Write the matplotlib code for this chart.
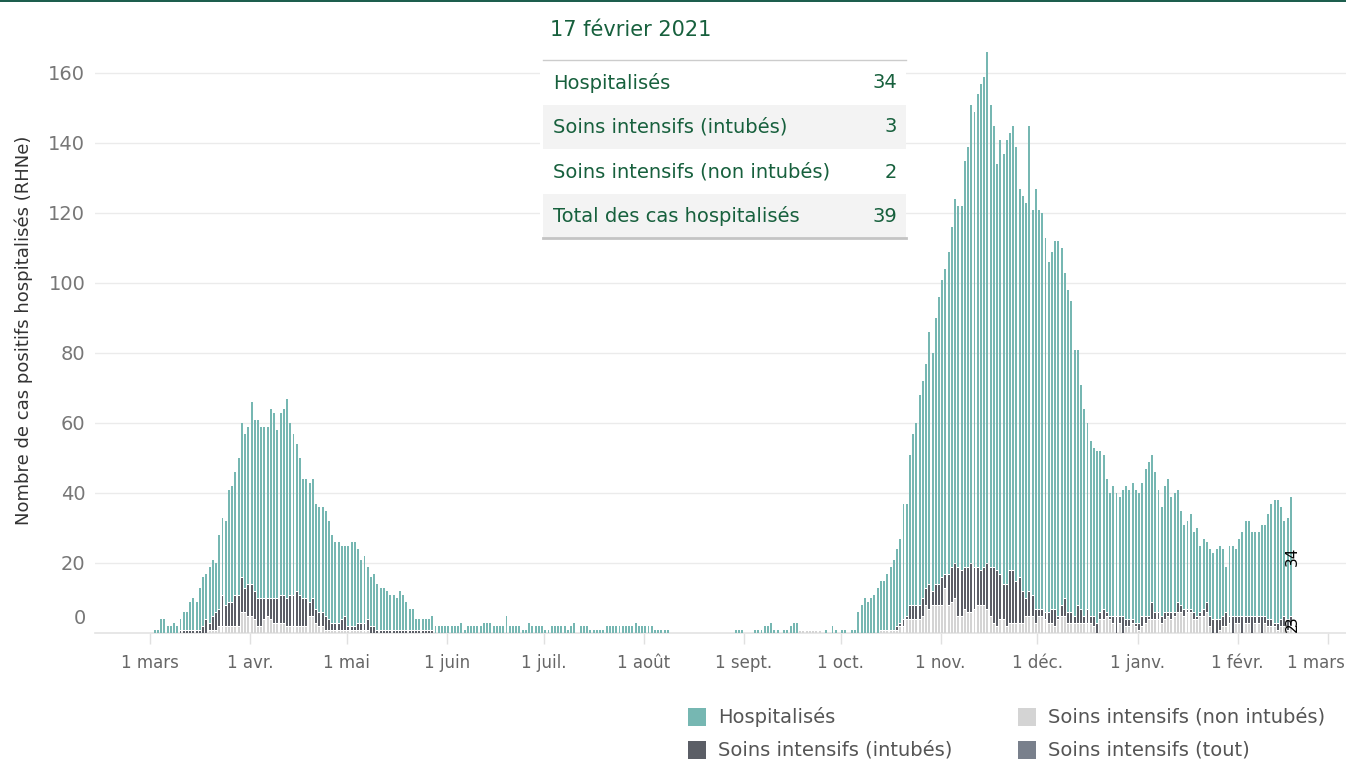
import numpy as np
import pandas as pd
import matplotlib
matplotlib.use("Agg")
import matplotlib.pyplot as plt
import matplotlib.transforms as mtransforms
from matplotlib.patches import Rectangle
from matplotlib.lines import Line2D

plt.rcParams['font.family'] = ['DejaVu Sans']

# daily values, 1 March 2020 -> 17 February 2021, one list per month
tot_mar = [0, 1, 1, 4, 4, 2, 2, 3, 2, 4, 6, 6, 9, 10, 9, 13, 16, 17, 19, 21, 20, 28, 33, 32, 41, 42, 46, 50, 60, 57, 59]
tot_avr = [66, 61, 61, 59, 59, 59, 64, 63, 58, 63, 64, 67, 60, 57, 54, 50, 44, 44, 43, 44, 37, 36, 36, 35, 32, 28, 26, 26, 25, 25]
tot_mai = [25, 26, 26, 24, 21, 22, 19, 16, 17, 14, 13, 13, 12, 11, 11, 10, 12, 11, 9, 7, 7, 4, 4, 4, 4, 4, 5, 2, 2, 2, 2]
tot_juin = [2, 2, 2, 2, 3, 1, 2, 2, 2, 2, 2, 3, 3, 3, 2, 2, 2, 2, 5, 2, 2, 2, 2, 1, 1, 3, 2, 2, 2, 2]
tot_juil = [1, 1, 2, 2, 2, 2, 2, 1, 2, 3, 0, 2, 2, 2, 1, 1, 1, 1, 1, 2, 2, 2, 2, 2, 2, 2, 2, 2, 3, 2, 2]
tot_aout = [2, 2, 2, 1, 1, 1, 1, 1, 0, 0, 0, 0, 0, 0, 0, 0, 0, 0, 0, 0, 0, 0, 0, 0, 0, 0, 0, 0, 1, 1, 1]
tot_sept = [0, 0, 0, 1, 1, 1, 2, 2, 3, 1, 1, 0, 1, 1, 2, 3, 3, 1, 1, 1, 1, 1, 1, 1, 0, 1, 0, 2, 1, 0]
tot_oct = [1, 1, 0, 1, 1, 6, 8, 10, 9, 10, 11, 13, 15, 15, 17, 19, 21, 24, 27, 37, 37, 51, 57, 60, 68, 72, 77, 86, 80, 90, 96]
tot_nov = [101, 104, 109, 116, 124, 122, 122, 135, 139, 151, 149, 154, 157, 159, 166, 151, 145, 134, 141, 137,
           141, 143, 145, 139, 127, 125, 123, 145, 121, 127]
tot_dec = [121, 120, 113, 106, 109, 112, 112, 110, 103, 98, 95, 81, 81, 71, 64, 60, 55, 53, 52, 52, 51, 44, 40, 42,
           40, 39, 41, 42, 41, 43, 41]
tot_jan = [40, 43, 47, 49, 51, 46, 41, 36, 42, 44, 39, 40, 41, 35, 31, 32, 34, 29, 30, 25, 27, 26, 24, 23, 24, 25,
           24, 19, 25, 25, 24]
tot_feb = [27, 29, 32, 32, 29, 29, 29, 31, 31, 34, 37, 38, 38, 36, 32, 33, 39]

int_mar = [0, 0, 0, 0, 0, 0, 0, 0, 0, 1, 1, 1, 1, 1, 1, 1, 2, 4, 2, 4, 5, 5, 9, 6, 7, 7, 9, 9, 10, 7, 9]
int_avr = [9, 8, 8, 8, 6, 5, 6, 7, 7, 8, 8, 8, 9, 9, 10, 9, 8, 8, 4, 5, 4, 4, 4, 4, 3, 2, 2, 2, 3, 4]
int_mai = [1, 1, 1, 2, 2, 2, 3, 2, 2, 1, 1, 1, 1, 1, 1, 1, 1, 1, 1, 1, 1, 1, 1, 1, 1, 1, 1, 0, 0, 0, 0]
int_juin = [0] * 30
int_juil = [0] * 31
int_aout = [0] * 31
int_sept = [0] * 30
int_oct = [0] * 17 + [1, 1, 2, 1, 4, 4, 4, 4, 5, 5, 7, 4, 6, 6]
int_nov = [8, 4, 9, 10, 10, 14, 13, 12, 13, 14, 12, 11, 10, 11, 13, 14, 16, 16, 13, 10, 12, 15, 15, 12, 13, 9, 5, 7, 6, 4]
int_dec = [2, 2, 2, 3, 4, 5, 1, 3, 5, 3, 3, 2, 5, 4, 2, 4, 2, 3, 3, 2, 3, 1, 1, 2, 5, 2, 5, 2, 2, 1, 1]
int_jan = [2, 3, 2, 1, 5, 2, 2, 2, 2, 1, 2, 1, 3, 2, 2, 1, 1, 2, 1, 1, 2, 3, 3, 4, 4, 3, 3, 4, 2, 5, 2]
int_feb = [2, 5, 2, 2, 5, 2, 2, 5, 2, 2, 2, 1, 2, 2, 3, 3, 3]

non_mar = [0] * 18 + [1, 1, 1, 2, 2, 2, 2, 2, 2, 2, 6, 6, 5]
non_avr = [5, 4, 2, 2, 4, 5, 4, 3, 3, 3, 3, 2, 2, 2, 2, 2, 2, 2, 5, 5, 3, 2, 2, 1, 1, 1, 1, 1, 1, 1]
non_mai = [1, 1, 1, 1, 1, 1, 1] + [0] * 24
non_juin = [0] * 30
non_juil = [0] * 31
non_aout = [0] * 31
non_sept = [0] * 17 + [1, 1, 1, 1, 1, 1, 1] + [0] * 6
non_oct = [0] * 12 + [1, 1, 1, 1, 1, 1, 2, 2, 4, 4, 4, 4, 4, 5, 8, 7, 8, 8, 8]
non_nov = [8, 13, 8, 9, 10, 5, 5, 7, 6, 6, 7, 8, 8, 8, 7, 5, 3, 2, 4, 4, 2, 3, 3, 3, 3, 3, 5, 5, 5, 3]
non_dec = [5, 5, 4, 3, 3, 2, 4, 5, 5, 3, 3, 3, 3, 3, 3, 3, 3, 2, 0, 4, 4, 5, 4, 3, 0, 3, 0, 2, 2, 3, 2]
non_jan = [1, 2, 3, 4, 4, 4, 4, 3, 4, 5, 4, 5, 6, 6, 5, 6, 6, 4, 4, 5, 5, 6, 2, 0, 0, 1, 2, 2, 3, 0, 3]
non_feb = [3, 0, 3, 3, 0, 3, 3, 0, 3, 2, 2, 2, 1, 2, 2, 1, 2]

month_labels = ['1 mars', '1 avr.', '1 mai', '1 juin', '1 juil.', '1 août', '1 sept.',
                '1 oct.', '1 nov.', '1 déc.', '1 janv.', '1 févr.', '1 mars']
legend_items = ['Hospitalisés', 'Soins intensifs (intubés)',
                'Soins intensifs (non intubés)', 'Soins intensifs (tout)']

TEAL = '#76b7b2'
DARK = '#5b5e66'
LIGHT = '#d4d4d4'
SLATE = '#79808c'
GREEN = '#17603d'

total = np.array(tot_mar + tot_avr + tot_mai + tot_juin + tot_juil + tot_aout + tot_sept
                 + tot_oct + tot_nov + tot_dec + tot_jan + tot_feb)
intub = np.array(int_mar + int_avr + int_mai + int_juin + int_juil + int_aout + int_sept
                 + int_oct + int_nov + int_dec + int_jan + int_feb)
nonint = np.array(non_mar + non_avr + non_mai + non_juin + non_juil + non_aout + non_sept
                  + non_oct + non_nov + non_dec + non_jan + non_feb)
icu = intub + nonint
hosp = total - icu
x = np.arange(len(total)) + 0.5

W, H = 1346, 762


def fx(px):
    return px / W


def fy(py):
    return 1 - py / H


fig = plt.figure(figsize=(W / 100, H / 100), dpi=100)
ax = fig.add_axes([fx(95), fy(633), fx(W - 95), 623 / H])

# stacked bars, small white gap between segments like the original
bw = 0.6
gap = 0.3
ax.bar(x, np.where(nonint > 0, nonint - gap, 0), width=bw, color=LIGHT, linewidth=0, zorder=2)
ax.bar(x, np.where(intub > 0, intub - gap, 0), bottom=nonint, width=bw, color=DARK,
       linewidth=0, zorder=2)
ax.bar(x, hosp, bottom=icu, width=bw, color=TEAL, linewidth=0, zorder=2)

ax.set_xlim(-17, 370.6)
ax.set_ylim(0, 178)

months = pd.date_range('2020-03-01', '2021-03-01', freq='MS')
ax.set_xticks((months - months[0]).days)
ax.set_xticklabels(month_labels)
ax.set_yticks(np.arange(20, 161, 20))
ax.yaxis.grid(True, color='#ebebeb', linewidth=1)
ax.set_axisbelow(True)
for s in ax.spines.values():
    s.set_visible(False)
ax.axhline(0, color='#e3e3e3', linewidth=1.2, clip_on=False, zorder=1)
ax.tick_params(axis='y', length=0, labelsize=14, labelcolor='#777777', pad=7)
ax.tick_params(axis='x', length=8, width=1, color='#e0e0e0', labelsize=12,
               labelcolor='#666666', pad=7)
# last month label is pulled inside the figure
lastlab = ax.get_xticklabels()[-1]
lastlab.set_transform(lastlab.get_transform() + mtransforms.ScaledTranslation(-12 / 100, 0, fig.dpi_scale_trans))

fig.text(fx(86), fy(619), '0', ha='right', va='center', fontsize=14, color='#777777')

fig.text(fx(24), fy(330), 'Nombre de cas positifs hospitalisés (RHNe)', rotation=90,
         ha='center', va='center', fontsize=13, color='#333333')

# labels on the last bar
last = len(total) - 1
ax.text(x[last] + 0.4, icu[last] + hosp[last] / 2, str(hosp[last]), rotation=90,
        ha='center', va='center', fontsize=11, color='black', zorder=6)
ax.text(x[last] + 0.4, nonint[last] + intub[last] / 2, str(intub[last]), rotation=90,
        ha='center', va='center', fontsize=11, color='black', zorder=6)
ax.text(x[last] + 0.4, nonint[last] / 2 + 0.8, str(nonint[last]), rotation=90,
        ha='center', va='center', fontsize=11, color='black', zorder=6)

# tooltip box
fig.add_artist(Rectangle((fx(540), fy(238)), fx(366), 228 / H, transform=fig.transFigure,
                         facecolor='white', edgecolor='none', zorder=5))
for top in (105, 194):
    fig.add_artist(Rectangle((fx(543), fy(top + 44)), fx(363), 44 / H, transform=fig.transFigure,
                             facecolor='#f3f3f3', edgecolor='none', zorder=6))
fig.add_artist(Line2D([fx(543), fx(906)], [fy(60), fy(60)], transform=fig.transFigure,
                      color='#cccccc', linewidth=1, zorder=7))
fig.add_artist(Line2D([fx(543), fx(906)], [fy(238), fy(238)], transform=fig.transFigure,
                      color='#c4c4c4', linewidth=2, zorder=7))
fig.text(fx(550), fy(30), '17 février 2021', ha='left', va='center', fontsize=15,
         color=GREEN, zorder=8)
rows = [('Hospitalisés', hosp[last]), ('Soins intensifs (intubés)', intub[last]),
        ('Soins intensifs (non intubés)', nonint[last]), ('Total des cas hospitalisés', total[last])]
for (name, val), yc in zip(rows, [83, 127, 172, 216]):
    fig.text(fx(553), fy(yc), name, ha='left', va='center', fontsize=14, color=GREEN, zorder=8)
    fig.text(fx(897), fy(yc), str(val), ha='right', va='center', fontsize=14, color=GREEN, zorder=8)

# legend
for (lx, ly), name, col in zip([(688, 717), (688, 750), (1018, 717), (1018, 750)],
                               legend_items, [TEAL, DARK, LIGHT, SLATE]):
    fig.add_artist(Rectangle((fx(lx), fy(ly + 9)), fx(18), 18 / H, transform=fig.transFigure,
                             facecolor=col, edgecolor='none'))
    fig.text(fx(lx + 30), fy(ly), name, ha='left', va='center', fontsize=14, color='#555555')

# top border
fig.add_artist(Rectangle((0, fy(2)), 1, 2 / H, transform=fig.transFigure,
                         facecolor='#1d5e4e', edgecolor='none'))

fig.savefig('out.png', dpi=100)
